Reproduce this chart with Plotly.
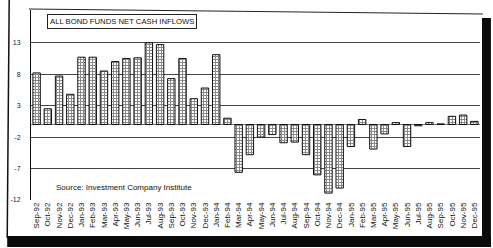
import plotly.graph_objects as go

months = ["Sep-92","Oct-92","Nov-92","Dec-92",
          "Jan-93","Feb-93","Mar-93","Apr-93","May-93","Jun-93","Jul-93","Aug-93","Sep-93","Oct-93","Nov-93","Dec-93",
          "Jan-94","Feb-94","Mar-94","Apr-94","May-94","Jun-94","Jul-94","Aug-94","Sep-94","Oct-94","Nov-94","Dec-94",
          "Jan-95","Feb-95","Mar-95","Apr-95","May-95","Jun-95","Jul-95","Aug-95","Sep-95","Oct-95","Nov-95","Dec-95"]
inflows = [8.2, 2.5, 7.7, 4.8,
           10.7, 10.7, 8.5, 10.0, 10.5, 10.6, 13.0, 12.7, 7.3, 10.5, 4.1, 5.8,
           11.1, 1.0, -7.6, -4.8, -2.0, -1.6, -2.9, -2.8, -4.8, -8.0, -10.9, -10.1,
           -3.5, 0.8, -3.9, -1.5, 0.3, -3.5, -0.2, 0.3, 0.1, 1.3, 1.5, 0.5]
y_ticks = [13, 8, 3, -2, -7, -12]
title_text = "ALL BOND FUNDS NET CASH INFLOWS"
source_text = "Source: Investment Company Institute"

W, H = 493, 248
L, R, T, B = 27, 13, 10, 48
pw, ph = W - L - R, H - T - B

def px(x):
    return (x - L) / pw

def py(y):
    return (H - B - y) / ph

fig = go.Figure()
fig.add_trace(go.Bar(
    x=months, y=inflows,
    marker=dict(color="white", line=dict(color="#111", width=1),
                pattern=dict(shape="+", size=3, solidity=0.55, fgcolor="#111", bgcolor="white")),
    showlegend=False,
))

shapes = [
    # outer frame
    dict(type="line", xref="paper", yref="paper", x0=px(5), y0=py(0), x1=px(3), y1=py(238),
         line=dict(color="#111", width=1.5)),
    dict(type="line", xref="paper", yref="paper", x0=px(25), y0=py(9), x1=px(483), y1=py(14),
         line=dict(color="#222", width=1)),
    dict(type="rect", xref="paper", yref="paper", x0=px(3), y0=py(236), x1=px(491), y1=py(247),
         fillcolor="#0a0a0a", line=dict(width=0)),
    dict(type="rect", xref="paper", yref="paper", x0=px(482), y0=py(18), x1=px(491), y1=py(247),
         fillcolor="#0a0a0a", line=dict(width=0)),
]

fig.update_layout(
    width=W, height=H,
    margin=dict(l=L, r=R, t=T, b=B),
    paper_bgcolor="white", plot_bgcolor="white",
    bargap=0.34,
    font=dict(family="Liberation Sans, Arial, sans-serif", color="#111"),
    xaxis=dict(type="category", tickangle=-90, tickfont=dict(size=8, color="#111"),
               showgrid=False, showline=False, ticks=""),
    yaxis=dict(range=[-12, 18.2], tickvals=y_ticks, ticktext=[str(v) for v in y_ticks],
               tickfont=dict(size=7, color="#222"), showgrid=True, gridcolor="#444", gridwidth=1,
               showline=True, linecolor="#111", linewidth=1, zeroline=True, zerolinecolor="#777",
               zerolinewidth=1, ticks="", ticklabelstandoff=8),
    shapes=shapes,
    annotations=[
        dict(text=title_text, xref="paper", yref="paper", x=px(43), y=py(22), xanchor="left",
             yanchor="middle", showarrow=False, font=dict(size=7.7, color="#111"),
             bordercolor="#222", borderwidth=1, borderpad=2, bgcolor="white"),
        dict(text=source_text, xref="paper", yref="paper", x=px(50), y=py(187), xanchor="left",
             yanchor="middle", showarrow=False, font=dict(size=8, color="#111")),
    ],
)

fig.write_html("out.html")
